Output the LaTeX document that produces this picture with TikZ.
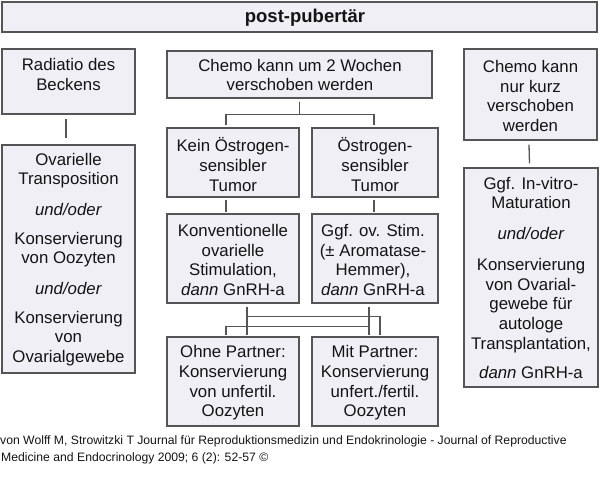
\documentclass[tikz,border=0pt]{standalone}
\usepackage{fontspec}
\setmainfont{Liberation Sans}
\usetikzlibrary{fit}
\definecolor{boxfill}{RGB}{240,239,245}
\definecolor{boxline}{RGB}{85,85,85}
\definecolor{txtcol}{RGB}{20,20,20}
\tikzset{
  box/.style={draw=boxline, fill=boxfill, line width=1.3pt, inner sep=0pt},
  txt/.style={align=center, inner sep=0pt, text=txtcol, font=\fontsize{16.8}{19.7}\selectfont},
  titletxt/.style={inner sep=0pt, text=txtcol, font=\fontsize{18.5}{22}\selectfont\bfseries},
  foot/.style={inner sep=0pt, anchor=base west, text=txtcol, font=\fontsize{12.2}{14}\selectfont},
  conn/.style={draw=boxline, line width=1.3pt},
}
\begin{document}
\begin{tikzpicture}[x=1pt,y=-1pt]
\useasboundingbox (0,0) rectangle (600,489);
% boxes
\node[box, fit={(2,2) (597,32)}] (title) {};
\node[box, fit={(2,49) (135,114)}] (rad) {};
\node[box, fit={(2,145) (135,373)}] (ovl) {};
\node[box, fit={(167,51) (432,98)}] (ctop) {};
\node[box, fit={(167,128) (299,197)}] (kein) {};
\node[box, fit={(312,128) (438,197)}] (oest) {};
\node[box, fit={(167,214) (299,303)}] (konv) {};
\node[box, fit={(312,214) (438,303)}] (ggf) {};
\node[box, fit={(167,337) (299,426)}] (ohne) {};
\node[box, fit={(312,337) (438,426)}] (mit) {};
\node[box, fit={(464,49) (597,140)}] (rtop) {};
\node[box, fit={(464,168) (598,387)}] (rbot) {};
% texts
\node[titletxt] (titlet) at (305,18) {post-pubertär};
\node[txt] (radt) at (68.5,74.4) {Radiatio des\\Beckens};
\node[txt] (ovlt) at (68.5,259.5) {Ovarielle\\Transposition\\[11pt]\textit{und/oder}\\[9pt]Konservierung\\von Oozyten\\[11pt]\textit{und/oder}\\[9pt]Konservierung\\von\\Ovarialgewebe};
\node[txt] (ctopt) at (300,75) {Chemo kann um 2 Wochen\\verschoben werden};
\node[txt] (keint) at (233,164.5) {Kein Östrogen-\\sensibler\\Tumor};
\node[txt] (oestt) at (375,164.5) {Östrogen-\\sensibler\\Tumor};
\node[txt] (konvt) at (233,260) {Konventionelle\\ovarielle\\Stimulation,\\\textit{dann} GnRH-a};
\node[txt] (ggft) at (373,260) {Ggf. ov. Stim.\\(± Aromatase-\\Hemmer),\\\textit{dann} GnRH-a};
\node[txt] (ohnet) at (233,383) {Ohne Partner:\\Konservierung\\von unfertil.\\Oozyten};
\node[txt] (mitt) at (375,383) {Mit Partner:\\Konservierung\\unfert./fertil.\\Oozyten};
\node[txt] (rtopt) at (530.5,96) {Chemo kann\\nur kurz\\verschoben\\werden};
\node[txt] (rbott) at (531,278) {Ggf. In-vitro-\\Maturation\\[11pt]\textit{und/oder}\\[11pt]Konservierung\\von Ovarial-\\gewebe für\\autologe\\Transplantation,\\[10pt]\textit{dann} GnRH-a};
% connectors
\draw[conn] ([xshift=-2.5pt,yshift=-4pt]rad.south) -- ([xshift=-2.5pt,yshift=6pt]ovl.north);
\draw[conn] ([yshift=-3pt]ctop.south) -- ++(0,13) -| ([xshift=-7pt,yshift=2pt]kein.north);
\draw[conn] ([yshift=-3pt]ctop.south) -- ++(0,13) -| ([xshift=-1pt,yshift=2pt]oest.north);
\draw[conn] ([xshift=-7pt,yshift=-2pt]kein.south) -- ([xshift=-7pt,yshift=1pt]konv.north);
\draw[conn] ([xshift=-1pt,yshift=-2pt]oest.south) -- ([xshift=-1pt,yshift=1pt]ggf.north);
\draw[conn] ([xshift=14pt,yshift=-3pt]konv.south) -- ([xshift=14pt,yshift=1pt]ohne.north);
\draw[conn] ([xshift=14pt,yshift=-3pt]konv.south) -- ++(0,10) -| ([xshift=5pt,yshift=1pt]mit.north);
\draw[conn] ([xshift=-6pt,yshift=-3pt]ggf.south) -- ([xshift=-6pt,yshift=1pt]mit.north);
\draw[conn] ([xshift=-6pt,yshift=-3pt]ggf.south) -- ++(0,20) -| ([xshift=-7pt,yshift=1pt]ohne.north);
\draw[conn] ([xshift=-1.5pt,yshift=-4pt]rtop.south) -- ([xshift=-1.5pt,yshift=4pt]rbot.north);
% footer
\node[foot] (f1) at (0,444) {von Wolff M, Strowitzki T Journal für Reproduktionsmedizin und Endokrinologie - Journal of Reproductive};
\node[foot] (f2) at (1,461) {Medicine and Endocrinology 2009; 6 (2): 52-57 ©};
\end{tikzpicture}
\end{document}
